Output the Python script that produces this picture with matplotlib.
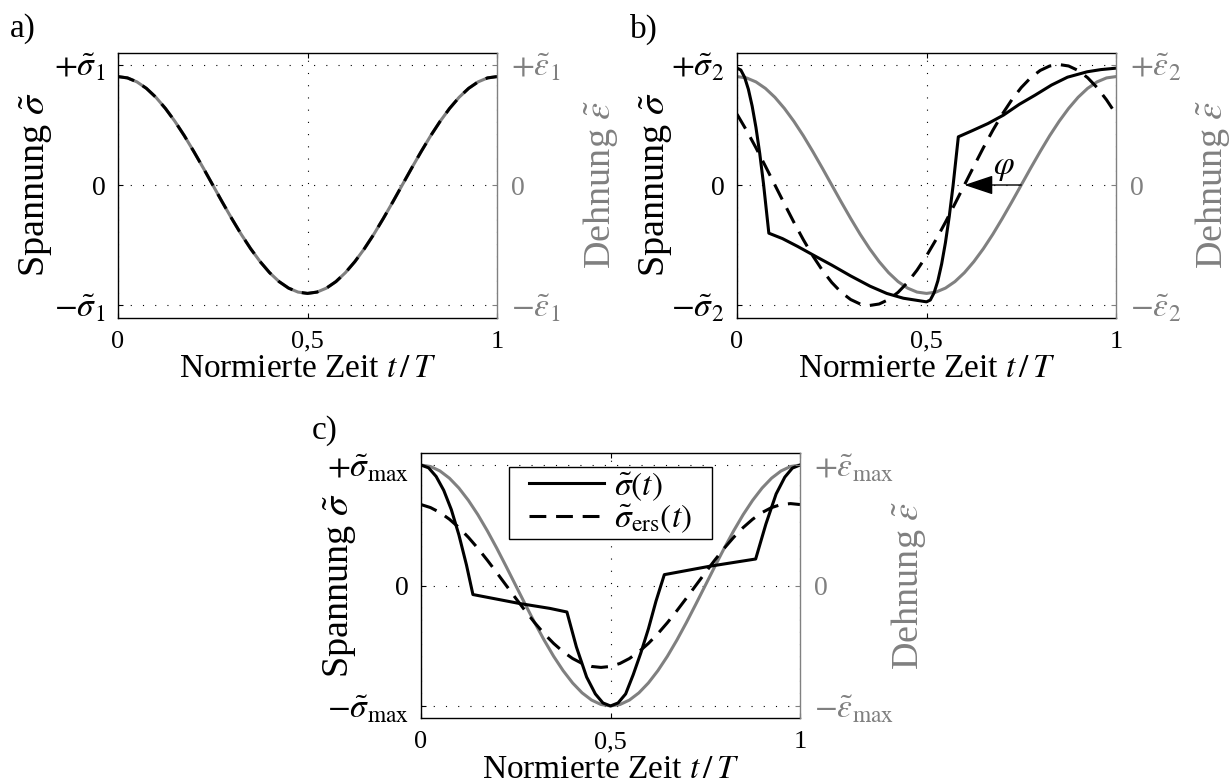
import numpy as np
import matplotlib
matplotlib.use("Agg")
import matplotlib.pyplot as plt

plt.rcParams.update({
    "font.family": "serif",
    "font.serif": ["Liberation Serif", "DejaVu Serif"],
    "mathtext.fontset": "stix",
})

# ---------------------------------------------------------------------------
# data
# ---------------------------------------------------------------------------
# sampling instants of the harmonic curves (t/T, step 1/40)
t_fine = np.linspace(0.0, 1.0, 41)

# a) linear-elastic: stress and strain in phase, same normalised amplitude
a_strain = [0.900, 0.889, 0.856, 0.802, 0.728, 0.636, 0.529, 0.409, 0.278, 0.141, 0.000,
            -0.141, -0.278, -0.409, -0.529, -0.636, -0.728, -0.802, -0.856, -0.889, -0.900,
            -0.889, -0.856, -0.802, -0.728, -0.636, -0.529, -0.409, -0.278, -0.141, 0.000,
            0.141, 0.278, 0.409, 0.529, 0.636, 0.728, 0.802, 0.856, 0.889, 0.900]
a_stress = [0.900, 0.889, 0.856, 0.802, 0.728, 0.636, 0.529, 0.409, 0.278, 0.141, 0.000,
            -0.141, -0.278, -0.409, -0.529, -0.636, -0.728, -0.802, -0.856, -0.889, -0.900,
            -0.889, -0.856, -0.802, -0.728, -0.636, -0.529, -0.409, -0.278, -0.141, 0.000,
            0.141, 0.278, 0.409, 0.529, 0.636, 0.728, 0.802, 0.856, 0.889, 0.900]

# b) elastic-plastic response, equivalent harmonic stress shifted by phi
b_strain = [0.900, 0.889, 0.856, 0.802, 0.728, 0.636, 0.529, 0.409, 0.278, 0.141, 0.000,
            -0.141, -0.278, -0.409, -0.529, -0.636, -0.728, -0.802, -0.856, -0.889, -0.900,
            -0.889, -0.856, -0.802, -0.728, -0.636, -0.529, -0.409, -0.278, -0.141, 0.000,
            0.141, 0.278, 0.409, 0.529, 0.636, 0.728, 0.802, 0.856, 0.889, 0.900]
b_ers = [0.588, 0.454, 0.309, 0.156, 0.000, -0.156, -0.309, -0.454, -0.588, -0.707, -0.809,
         -0.891, -0.951, -0.988, -1.000, -0.988, -0.951, -0.891, -0.809, -0.707, -0.588,
         -0.454, -0.309, -0.156, 0.000, 0.156, 0.309, 0.454, 0.588, 0.707, 0.809,
         0.891, 0.951, 0.988, 1.000, 0.988, 0.951, 0.891, 0.809, 0.707, 0.588]
b_stress_t = [0.0, 0.01, 0.02, 0.03, 0.04, 0.05, 0.06, 0.07, 0.084, 0.12, 0.16, 0.206,
              0.25, 0.30, 0.351, 0.395, 0.439, 0.5, 0.51, 0.52, 0.53, 0.54, 0.55, 0.56,
              0.57, 0.584, 0.62, 0.662, 0.703, 0.745, 0.786, 0.83, 0.872, 0.924, 0.96, 1.0]
b_stress = [0.97, 0.955, 0.895, 0.795, 0.655, 0.478, 0.262, 0.008, -0.40, -0.445, -0.51,
            -0.59, -0.665, -0.755, -0.84, -0.90, -0.94, -0.97, -0.955, -0.895, -0.795,
            -0.655, -0.478, -0.262, -0.008, 0.40, 0.45, 0.51, 0.58, 0.67, 0.745, 0.83,
            0.895, 0.94, 0.958, 0.97]
# zero crossings joined by the phase arrow (strain -> equivalent stress)
b_zero_strain = 0.75
b_zero_ers = 0.60

# c) stress at the amplitude limit
c_strain = [1.000, 0.988, 0.951, 0.891, 0.809, 0.707, 0.588, 0.454, 0.309, 0.156, 0.000,
            -0.156, -0.309, -0.454, -0.588, -0.707, -0.809, -0.891, -0.951, -0.988, -1.000,
            -0.988, -0.951, -0.891, -0.809, -0.707, -0.588, -0.454, -0.309, -0.156, 0.000,
            0.156, 0.309, 0.454, 0.588, 0.707, 0.809, 0.891, 0.951, 0.988, 1.000]
c_ers = [0.672, 0.647, 0.606, 0.550, 0.481, 0.400, 0.309, 0.210, 0.106, 0.000, -0.106,
         -0.210, -0.309, -0.400, -0.481, -0.550, -0.606, -0.647, -0.672, -0.680, -0.672,
         -0.647, -0.606, -0.550, -0.481, -0.400, -0.309, -0.210, -0.106, 0.000, 0.106,
         0.210, 0.309, 0.400, 0.481, 0.550, 0.606, 0.647, 0.672, 0.680, 0.672]
c_stress_t = [0.0, 0.02, 0.04, 0.06, 0.08, 0.10, 0.12, 0.137, 0.261, 0.34, 0.385, 0.41,
              0.437, 0.46, 0.48, 0.5, 0.52, 0.54, 0.56, 0.58, 0.60, 0.62, 0.642, 0.762,
              0.883, 0.91, 0.937, 0.96, 0.98, 1.0]
c_stress = [1.0, 0.977, 0.905, 0.79, 0.63, 0.42, 0.17, -0.075, -0.15, -0.19, -0.22, -0.51,
            -0.76, -0.90, -0.975, -1.0, -0.975, -0.90, -0.74, -0.56, -0.36, -0.13, 0.09,
            0.16, 0.22, 0.51, 0.76, 0.90, 0.975, 1.0]

# axis tick labels
x_ticks = [0.0, 0.5, 1.0]
x_ticklabels = ["0", "0,5", "1"]
y_ticks = [-1.0, 0.0, 1.0]
a_left = [r"$-\tilde{\sigma}_1$", "0", r"$+\tilde{\sigma}_1$"]
a_right = [r"$-\tilde{\varepsilon}_1$", "0", r"$+\tilde{\varepsilon}_1$"]
b_left = [r"$-\tilde{\sigma}_2$", "0", r"$+\tilde{\sigma}_2$"]
b_right = [r"$-\tilde{\varepsilon}_2$", "0", r"$+\tilde{\varepsilon}_2$"]
c_left = [r"$-\tilde{\sigma}_{\rm max}$", "0", r"$+\tilde{\sigma}_{\rm max}$"]
c_right = [r"$-\tilde{\varepsilon}_{\rm max}$", "0", r"$+\tilde{\varepsilon}_{\rm max}$"]

# ---------------------------------------------------------------------------
# styling
# ---------------------------------------------------------------------------
GRAY = "#808080"
LW = 2.2
DASH = (5.5, 3.2)
TICK_FS = 20
XTICK_FS = 19
TICK_MATH_FS = 24
XLABEL_FS = 24
YLABEL_FS = 27.5
W, H = 1232, 784
AX_W, AX_H = 379, 265

fig = plt.figure(figsize=(W / 100, H / 100), dpi=100)


def enlarge_math(labels):
    for lbl in labels:
        if lbl.get_text().startswith("$"):
            lbl.set_fontsize(TICK_MATH_FS)


def make_panel(left_px, top_px, left_labels, right_labels, rlab_off):
    ax = fig.add_axes([left_px / W, 1 - (top_px + AX_H) / H, AX_W / W, AX_H / H])
    ax.set_xlim(0, 1)
    ax.set_ylim(-1.1, 1.1)
    ax.set_xticks(x_ticks, labels=x_ticklabels)
    ax.set_yticks(y_ticks, labels=left_labels)
    ax.tick_params(direction="in", length=3.6, width=0.8, labelsize=TICK_FS,
                   top=True, right=False)
    ax.tick_params(axis="x", pad=9.5, labelsize=XTICK_FS)
    ax.tick_params(axis="y", pad=9)
    enlarge_math(ax.get_yticklabels())
    ax.grid(True, color="black", linestyle=(0, (1, 10)), linewidth=0.8)
    for s in ("left", "top", "bottom"):
        ax.spines[s].set_linewidth(1.0)
    ax.spines["right"].set_visible(False)

    ax.set_xlabel(r"Normierte Zeit $t\,/\,T$", fontsize=XLABEL_FS, va="baseline")
    ax.xaxis.set_label_coords(0.5, -59.5 / AX_H)
    ax.set_ylabel(r"Spannung $\tilde{\sigma}$", fontsize=YLABEL_FS, va="center")
    ax.yaxis.set_label_coords(-82 / AX_W, 0.5)

    ax2 = ax.twinx()
    ax2.set_ylim(-1.1, 1.1)
    ax2.set_yticks(y_ticks, labels=right_labels)
    ax2.tick_params(axis="y", direction="in", length=3.6, width=0.8, colors=GRAY,
                    labelsize=TICK_FS, pad=10)
    enlarge_math(ax2.get_yticklabels())
    for s in ("left", "top", "bottom"):
        ax2.spines[s].set_visible(False)
    ax2.spines["right"].set_color(GRAY)
    ax2.spines["right"].set_linewidth(1.0)
    ax2.set_ylabel(r"Dehnung $\tilde{\varepsilon}$", fontsize=YLABEL_FS, color=GRAY,
                   rotation=90, va="center")
    ax2.yaxis.set_label_coords(1 + rlab_off / AX_W, 0.5)
    return ax


# a)
ax_a = make_panel(118, 52.5, a_left, a_right, 103)
ax_a.plot(t_fine, a_strain, color=GRAY, lw=LW)
ax_a.plot(t_fine, a_stress, color="black", lw=LW, dashes=DASH)

# b)
ax_b = make_panel(737, 52.5, b_left, b_right, 97)
ax_b.plot(t_fine, b_strain, color=GRAY, lw=LW)
ax_b.plot(b_stress_t, b_stress, color="black", lw=LW)
ax_b.plot(t_fine, b_ers, color="black", lw=LW, dashes=DASH)
ax_b.annotate("", xy=(b_zero_ers, 0.0), xytext=(b_zero_strain, 0.0),
              arrowprops=dict(arrowstyle="-|>,head_length=1.8,head_width=0.6",
                              mutation_scale=10, color="black", lw=1.0,
                              shrinkA=0, shrinkB=0))
ax_b.text((b_zero_ers + b_zero_strain) / 2 + 0.03, 0.02, r"$\varphi$",
          fontsize=24, ha="center", va="bottom")

# c)
ax_c = make_panel(421, 453, c_left, c_right, 108)
ax_c.plot(t_fine, c_strain, color=GRAY, lw=LW)
ax_c.plot(c_stress_t, c_stress, color="black", lw=LW, label=r"$\tilde{\sigma}(t)$")
ax_c.plot(t_fine, c_ers, color="black", lw=LW, dashes=DASH,
          label=r"$\tilde{\sigma}_{\rm ers}(t)$")
leg = ax_c.legend(loc="upper center", bbox_to_anchor=(0.5, 0.947), fontsize=24,
                  handlelength=2.25, handletextpad=0.3, borderpad=0.1,
                  labelspacing=0.0, borderaxespad=0.0, fancybox=False,
                  framealpha=1.0, edgecolor="black")
frame = leg.get_frame()
frame.set_linewidth(1.0)
# wider side margins than top/bottom margins
frame.set_boxstyle("square", pad=0.5)
frame.set_mutation_aspect(0.001)

# panel letters
fig.text(10 / W, 1 - 29 / H, "a)", fontsize=24, ha="left", va="center")
fig.text(630 / W, 1 - 29 / H, "b)", fontsize=24, ha="left", va="center")
fig.text(312 / W, 1 - 431 / H, "c)", fontsize=24, ha="left", va="center")

fig.savefig("out.png", dpi=100)
